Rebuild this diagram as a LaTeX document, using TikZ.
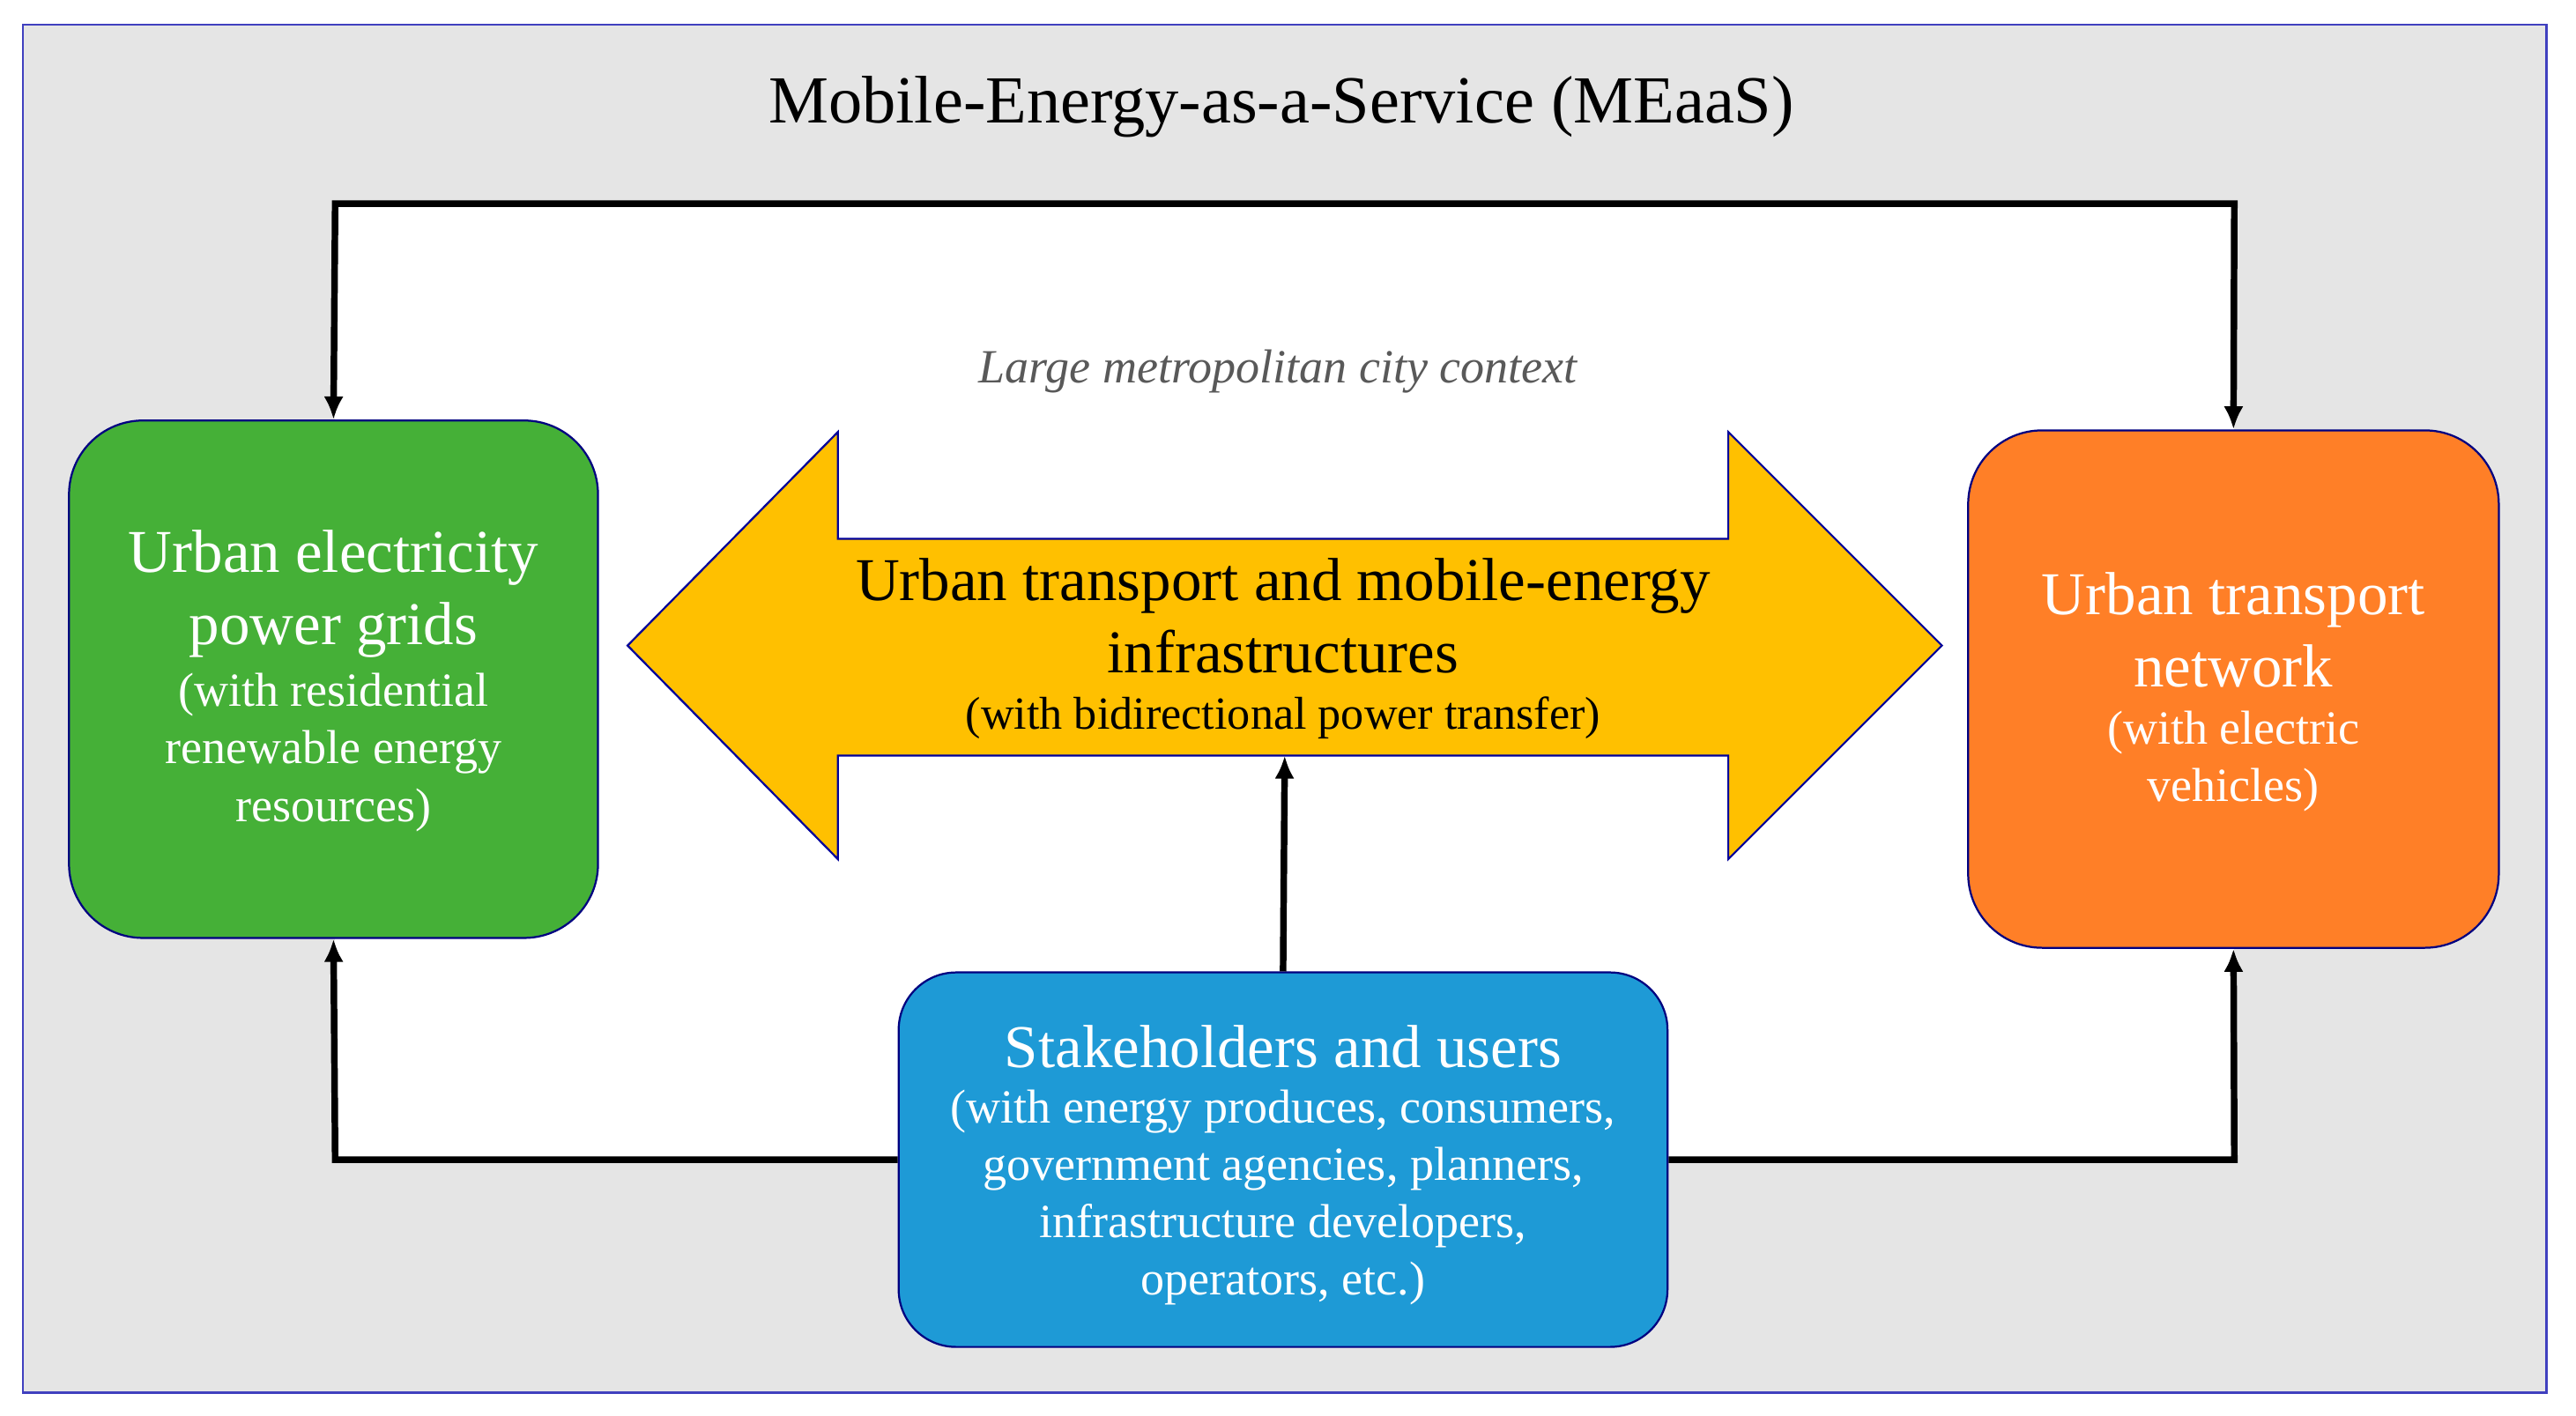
\documentclass[tikz,border=0pt]{standalone}
\usepackage{fontspec}
\setmainfont{Liberation Serif}
\usetikzlibrary{arrows.meta}
\begin{document}
\begin{tikzpicture}[x=1pt,y=-1pt,
  box/.style={draw=blue!50!black,line width=1.2pt,rounded corners=45pt,inner sep=0pt,align=center},
  bigt/.style={align=center,font=\fontsize{37}{44}\selectfont},
  smallt/.style={align=center,font=\fontsize{29}{35}\selectfont},
  conn/.style={line width=4pt,-{Latex[length=14pt,width=12pt]}}]
\useasboundingbox (0,0) rectangle (1568,862);
\fill[white] (0,0) rectangle (1568,862);
\draw[fill=black!10,draw=blue!50!gray,line width=1.5pt] (14,15) rectangle (1550,848);
\fill[white] (204,124) rectangle (1360,706);
\node[font=\fontsize{41}{46}\selectfont] (title) at (780,65) {Mobile-Energy-as-a-Service (MEaaS)};
\node[font=\itshape\fontsize{29}{34}\selectfont,text=black!65] (ctx) at (778,226) {Large metropolitan city context};
\node[box,fill={rgb,255:red,69;green,176;blue,55},minimum width=322pt,minimum height=315pt] (g) at (203,413.5) {};
\node[bigt,text=white] (gt) at (203,361.5) {Urban electricity\\power grids};
\node[smallt,text=white] (gs) at (203,458) {(with residential\\renewable energy\\resources)};
\node[box,fill={rgb,255:red,255;green,127;blue,39},minimum width=323pt,minimum height=315pt] (o) at (1359.5,419.5) {};
\node[bigt,text=white] (ot) at (1359.5,383.5) {Urban transport\\network};
\node[smallt,text=white] (os) at (1359.5,463.5) {(with electric\\vehicles)};
\node[box,fill={rgb,255:red,30;green,154;blue,214},rounded corners=35pt,minimum width=468pt,minimum height=228pt] (b) at (781,706) {};
\node[bigt,text=white] (bt) at (781,637) {Stakeholders and users};
\node[smallt,text=white] (bs) at (781,729) {(with energy produces, consumers,\\government agencies, planners,\\infrastructure developers,\\operators, etc.)};
\draw[fill={rgb,255:red,255;green,192;blue,0},draw=blue!60!black,line width=1.2pt]
  (382,393) -- (510,263) -- (510,328) -- (1052,328) -- (1052,263) -- (1182,393) -- (1052,523) -- (1052,460) -- (510,460) -- (510,523) -- cycle;
\coordinate (abot) at (782,460);
\coordinate (tl) at (204,124);
\coordinate (tr) at (1360,124);
\coordinate (bl) at (204,706);
\coordinate (br) at (1360,706);
\node[bigt] (at) at (781,375) {Urban transport and mobile-energy\\infrastructures};
\node[smallt,font=\fontsize{28}{34}\selectfont] (as) at (781,437) {(with bidirectional power transfer)};
\draw[line width=4pt,{Latex[length=14pt,width=12pt]}-{Latex[length=14pt,width=12pt]}] (g.north) -- (tl) -- (tr) -- (o.north);
\draw[conn] (b.west) -- (bl) -- (g.south);
\draw[conn] (b.east) -- (br) -- (o.south);
\draw[conn] (b.north) -- (abot);
\end{tikzpicture}
\end{document}
